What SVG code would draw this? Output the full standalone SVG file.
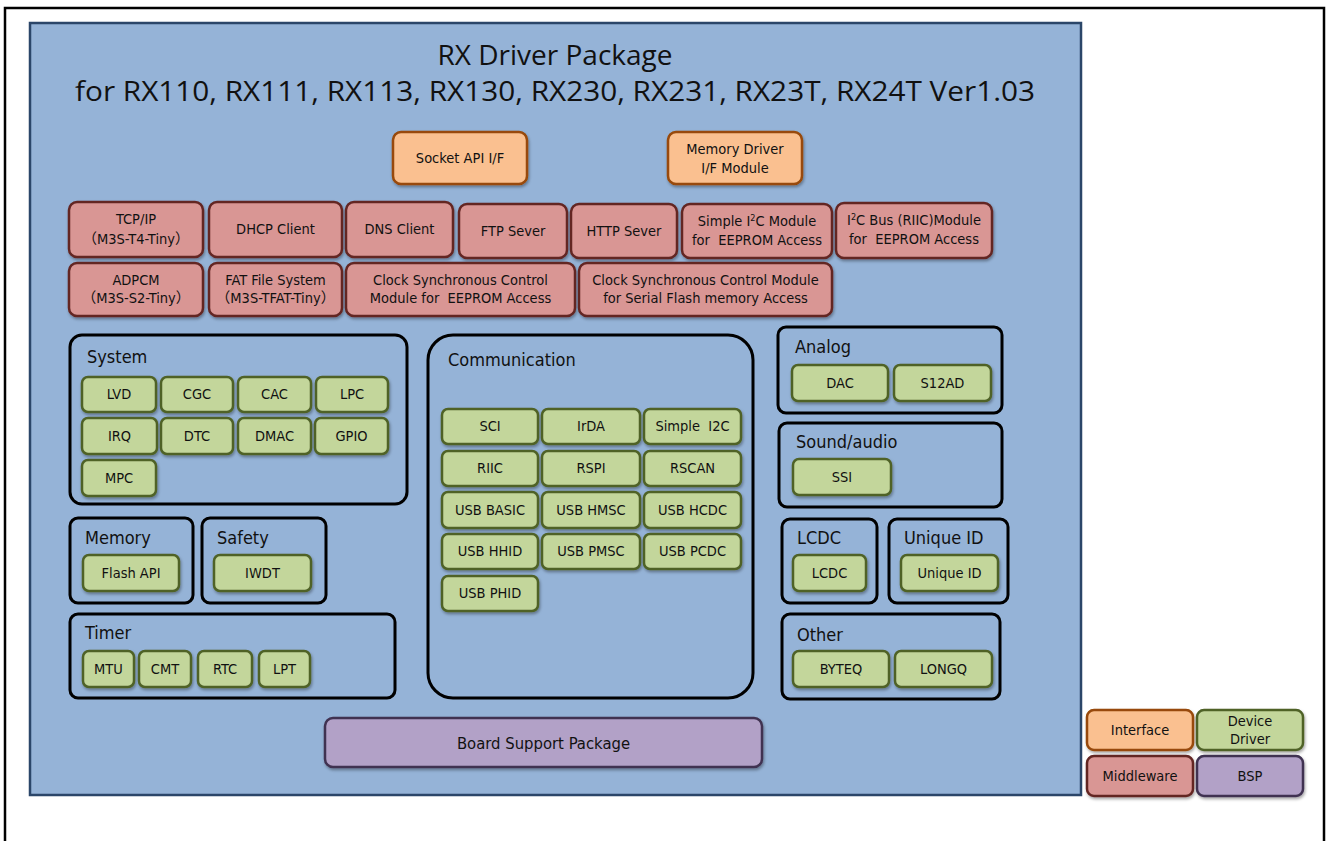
<svg xmlns="http://www.w3.org/2000/svg" width="1326" height="841" viewBox="0 0 1326 841">
<defs>
<filter id="sh" x="-10%" y="-10%" width="130%" height="140%"><feDropShadow dx="1" dy="2" stdDeviation="1.5" flood-color="#000" flood-opacity="0.35"/></filter>
</defs>
<style>
.grp{fill:none;stroke:#000;stroke-width:3}
.dd{fill:#c3d69b;stroke:#4f6228;stroke-width:2.5;filter:url(#sh)}
.mw{fill:#d99694;stroke:#632523;stroke-width:2.5;filter:url(#sh)}
.if{fill:#fac090;stroke:#984807;stroke-width:2.5;filter:url(#sh)}
.bsp{fill:#b2a1c7;stroke:#3f3151;stroke-width:2.5;filter:url(#sh)}
text{font-family:"DejaVu Sans Condensed","DejaVu Sans","Noto Sans CJK JP",sans-serif;fill:#111}
.t{font-size:14.5px;text-anchor:middle;font-stretch:condensed}
.gt{font-size:18px;font-stretch:condensed}
.title{font-family:"Open Sans","Liberation Sans",sans-serif;font-size:28px;text-anchor:middle}
</style>
<rect x="0" y="0" width="1326" height="841" fill="#fff"/>
<rect x="5" y="8" width="1319" height="900" fill="none" stroke="#000" stroke-width="2.5"/>
<g id="main">
<rect x="30" y="23" width="1051" height="772" fill="#95b3d7" stroke="#2b4669" stroke-width="2.5"/>
<text class="title" x="555" y="65">RX Driver Package</text>
<text class="title" x="555" y="101" textLength="960" lengthAdjust="spacingAndGlyphs">for RX110, RX111, RX113, RX130, RX230, RX231, RX23T, RX24T Ver1.03</text>
</g>
<g id="connectors"/>
<!-- Interfaces -->
<g id="socket-api"><rect class="if" x="393" y="132" width="134" height="52" rx="8"/><text class="t" x="460" y="163">Socket API I/F</text></g>
<g id="memory-driver"><rect class="if" x="668" y="132" width="134" height="52" rx="8"/><text class="t" x="735" y="154">Memory Driver</text><text class="t" x="735" y="173">I/F Module</text></g>
<!-- Middleware -->
<g id="tcpip"><rect class="mw" x="69" y="202" width="134" height="55" rx="8"/><text class="t" x="136" y="224">TCP/IP</text><text class="t" x="136" y="244">（M3S-T4-Tiny）</text></g>
<g id="dhcp"><rect class="mw" x="209" y="202" width="133" height="55" rx="8"/><text class="t" x="275.5" y="234">DHCP Client</text></g>
<g id="dns"><rect class="mw" x="346" y="202" width="107" height="55" rx="8"/><text class="t" x="399.5" y="234">DNS Client</text></g>
<g id="ftp"><rect class="mw" x="459" y="204" width="108" height="54" rx="8"/><text class="t" x="513" y="236">FTP Sever</text></g>
<g id="http"><rect class="mw" x="571" y="204" width="106" height="54" rx="8"/><text class="t" x="624" y="236">HTTP Sever</text></g>
<g id="simple-i2c-eeprom"><rect class="mw" x="682" y="204" width="150" height="54" rx="8"/><text class="t" x="757" y="226">Simple I<tspan font-size="9" baseline-shift="super">2</tspan>C Module</text><text class="t" x="757" y="245" xml:space="preserve">for  EEPROM Access</text></g>
<g id="i2c-bus-eeprom"><rect class="mw" x="836" y="203" width="156" height="55" rx="8"/><text class="t" x="914" y="225">I<tspan font-size="9" baseline-shift="super">2</tspan>C Bus (RIIC)Module</text><text class="t" x="914" y="244" xml:space="preserve">for  EEPROM Access</text></g>
<g id="adpcm"><rect class="mw" x="69" y="263" width="134" height="53" rx="8"/><text class="t" x="136" y="285">ADPCM</text><text class="t" x="136" y="303">（M3S-S2-Tiny）</text></g>
<g id="fat"><rect class="mw" x="209" y="263" width="133" height="53" rx="8"/><text class="t" x="275.5" y="285">FAT File System</text><text class="t" x="275.5" y="303">（M3S-TFAT-Tiny）</text></g>
<g id="clk-eeprom"><rect class="mw" x="346" y="263" width="229" height="53" rx="8"/><text class="t" x="460.5" y="285">Clock Synchronous Control</text><text class="t" x="460.5" y="303" xml:space="preserve">Module for  EEPROM Access</text></g>
<g id="clk-flash"><rect class="mw" x="579" y="263" width="253" height="53" rx="8"/><text class="t" x="705.5" y="285">Clock Synchronous Control Module</text><text class="t" x="705.5" y="303">for Serial Flash memory Access</text></g>
<!-- System -->
<g id="system"><rect class="grp" x="70" y="335" width="337" height="169" rx="12"/><text class="gt" x="87" y="363">System</text>
<g id="lvd"><rect class="dd" x="82" y="377" width="74" height="35" rx="6"/><text class="t" x="119" y="399">LVD</text></g>
<g id="cgc"><rect class="dd" x="161" y="377" width="72" height="35" rx="6"/><text class="t" x="197" y="399">CGC</text></g>
<g id="cac"><rect class="dd" x="238" y="377" width="73" height="35" rx="6"/><text class="t" x="274.5" y="399">CAC</text></g>
<g id="lpc"><rect class="dd" x="316" y="377" width="72" height="35" rx="6"/><text class="t" x="352" y="399">LPC</text></g>
<g id="irq"><rect class="dd" x="82" y="418" width="75" height="36" rx="6"/><text class="t" x="119.5" y="441">IRQ</text></g>
<g id="dtc"><rect class="dd" x="161" y="418" width="72" height="36" rx="6"/><text class="t" x="197" y="441">DTC</text></g>
<g id="dmac"><rect class="dd" x="238" y="418" width="73" height="36" rx="6"/><text class="t" x="274.5" y="441">DMAC</text></g>
<g id="gpio"><rect class="dd" x="315" y="418" width="73" height="36" rx="6"/><text class="t" x="351.5" y="441">GPIO</text></g>
<g id="mpc"><rect class="dd" x="82" y="460" width="74" height="36" rx="6"/><text class="t" x="119" y="483">MPC</text></g>
</g>
<!-- Memory / Safety / Timer -->
<g id="memory"><rect class="grp" x="70" y="518" width="123" height="85" rx="8"/><text class="gt" x="85" y="544">Memory</text>
<g id="flash-api"><rect class="dd" x="83" y="555" width="96" height="36" rx="6"/><text class="t" x="131" y="578">Flash API</text></g></g>
<g id="safety"><rect class="grp" x="202" y="518" width="124" height="85" rx="8"/><text class="gt" x="217" y="544">Safety</text>
<g id="iwdt"><rect class="dd" x="214" y="555" width="97" height="36" rx="6"/><text class="t" x="262.5" y="578">IWDT</text></g></g>
<g id="timer"><rect class="grp" x="70" y="614" width="325" height="84" rx="8"/><text class="gt" x="85" y="639">Timer</text>
<g id="mtu"><rect class="dd" x="83" y="651" width="51" height="36" rx="6"/><text class="t" x="108.5" y="674">MTU</text></g>
<g id="cmt"><rect class="dd" x="139" y="651" width="52" height="36" rx="6"/><text class="t" x="165" y="674">CMT</text></g>
<g id="rtc"><rect class="dd" x="198" y="651" width="54" height="36" rx="6"/><text class="t" x="225" y="674">RTC</text></g>
<g id="lpt"><rect class="dd" x="259" y="651" width="51" height="36" rx="6"/><text class="t" x="284.5" y="674">LPT</text></g></g>
<!-- Communication -->
<g id="communication"><rect class="grp" x="428" y="335" width="325" height="363" rx="25"/><text class="gt" x="448" y="366">Communication</text>
<g id="sci"><rect class="dd" x="442" y="409" width="96" height="35" rx="6"/><text class="t" x="490" y="431">SCI</text></g>
<g id="irda"><rect class="dd" x="542" y="409" width="98" height="35" rx="6"/><text class="t" x="591" y="431">IrDA</text></g>
<g id="simple-i2c"><rect class="dd" x="644" y="409" width="97" height="35" rx="6"/><text class="t" x="692.5" y="431" xml:space="preserve">Simple  I2C</text></g>
<g id="riic"><rect class="dd" x="442" y="451" width="96" height="35" rx="6"/><text class="t" x="490" y="473">RIIC</text></g>
<g id="rspi"><rect class="dd" x="542" y="451" width="98" height="35" rx="6"/><text class="t" x="591" y="473">RSPI</text></g>
<g id="rscan"><rect class="dd" x="644" y="451" width="97" height="35" rx="6"/><text class="t" x="692.5" y="473">RSCAN</text></g>
<g id="usb-basic"><rect class="dd" x="442" y="492" width="96" height="36" rx="6"/><text class="t" x="490" y="515">USB BASIC</text></g>
<g id="usb-hmsc"><rect class="dd" x="542" y="492" width="98" height="36" rx="6"/><text class="t" x="591" y="515">USB HMSC</text></g>
<g id="usb-hcdc"><rect class="dd" x="644" y="492" width="97" height="36" rx="6"/><text class="t" x="692.5" y="515">USB HCDC</text></g>
<g id="usb-hhid"><rect class="dd" x="442" y="534" width="96" height="35" rx="6"/><text class="t" x="490" y="556">USB HHID</text></g>
<g id="usb-pmsc"><rect class="dd" x="542" y="534" width="98" height="35" rx="6"/><text class="t" x="591" y="556">USB PMSC</text></g>
<g id="usb-pcdc"><rect class="dd" x="644" y="534" width="97" height="35" rx="6"/><text class="t" x="692.5" y="556">USB PCDC</text></g>
<g id="usb-phid"><rect class="dd" x="442" y="576" width="96" height="35" rx="6"/><text class="t" x="490" y="598">USB PHID</text></g>
</g>
<!-- Right column -->
<g id="analog"><rect class="grp" x="778" y="327" width="224" height="86" rx="8"/><text class="gt" x="795" y="353">Analog</text>
<g id="dac"><rect class="dd" x="792" y="365" width="96" height="36" rx="6"/><text class="t" x="840" y="388">DAC</text></g>
<g id="s12ad"><rect class="dd" x="894" y="365" width="97" height="36" rx="6"/><text class="t" x="942.5" y="388">S12AD</text></g></g>
<g id="sound"><rect class="grp" x="779" y="423" width="223" height="84" rx="8"/><text class="gt" x="796" y="448">Sound/audio</text>
<g id="ssi"><rect class="dd" x="793" y="459" width="98" height="36" rx="6"/><text class="t" x="842" y="482">SSI</text></g></g>
<g id="lcdc-grp"><rect class="grp" x="782" y="519" width="95" height="84" rx="8"/><text class="gt" x="797" y="544">LCDC</text>
<g id="lcdc"><rect class="dd" x="793" y="555" width="73" height="36" rx="6"/><text class="t" x="829.5" y="578">LCDC</text></g></g>
<g id="uid-grp"><rect class="grp" x="889" y="519" width="119" height="84" rx="8"/><text class="gt" x="904" y="544">Unique ID</text>
<g id="uid"><rect class="dd" x="901" y="555" width="97" height="36" rx="6"/><text class="t" x="949.5" y="578">Unique ID</text></g></g>
<g id="other"><rect class="grp" x="782" y="614" width="218" height="85" rx="8"/><text class="gt" x="797" y="641">Other</text>
<g id="byteq"><rect class="dd" x="793" y="651" width="96" height="36" rx="6"/><text class="t" x="841" y="674">BYTEQ</text></g>
<g id="longq"><rect class="dd" x="895" y="651" width="97" height="36" rx="6"/><text class="t" x="943.5" y="674">LONGQ</text></g></g>
<!-- BSP -->
<g id="bsp"><rect class="bsp" x="325" y="718" width="437" height="49" rx="8"/><text class="t" x="543.5" y="749" style="font-size:16.5px">Board Support Package</text></g>
<!-- Legend -->
<g id="legend-interface"><rect class="if" x="1087" y="710" width="106" height="40" rx="7"/><text class="t" x="1140" y="735">Interface</text></g>
<g id="legend-driver"><rect class="dd" x="1197" y="710" width="106" height="40" rx="7"/><text class="t" x="1250" y="726">Device</text><text class="t" x="1250" y="744">Driver</text></g>
<g id="legend-middleware"><rect class="mw" x="1087" y="756" width="106" height="40" rx="7"/><text class="t" x="1140" y="781">Middleware</text></g>
<g id="legend-bsp"><rect class="bsp" x="1197" y="756" width="106" height="40" rx="7"/><text class="t" x="1250" y="781">BSP</text></g>
</svg>
